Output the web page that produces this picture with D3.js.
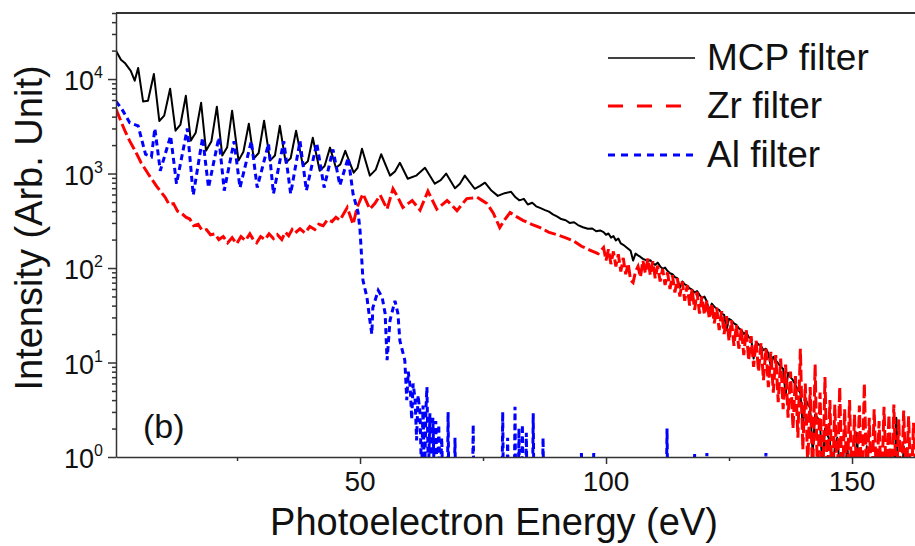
<!DOCTYPE html>
<html>
<head>
<meta charset="utf-8">
<script src="https://cdn.jsdelivr.net/npm/d3@7"></script>
<style>
  body { margin: 0; background: #fff; }
  svg { display: block; font-family: "Liberation Sans", Arial, sans-serif; }
</style>
</head>
<body>
<svg id="chart" width="915" height="546"></svg>
<script>
// MCP filter spectrum, 0 - 98 eV (peaks / troughs of the harmonic comb)
var mcpE = [0.4, 1.4, 2.2, 3.4, 4.2, 4.9, 5.9, 6.9, 8.1, 9.2, 10.2, 11.4, 12.5, 13.5, 14.6, 15.6, 16.6, 17.7, 18.7, 19.8,
  20.9, 22.0, 23.0, 24.0, 25.3, 26.3, 27.4, 28.4, 29.4, 30.5, 31.7, 32.7, 33.7, 34.9, 35.9, 37.0, 38.4, 39.4, 40.4, 41.8,
  42.8, 43.9, 45.1, 46.0, 47.0, 48.7, 49.5, 50.4, 52.0, 53.2, 54.3, 56.1, 57.1, 58.1, 59.7, 61.4, 63.2, 65.2, 66.4, 67.5,
  69.3, 70.3, 71.3, 73.3, 74.4, 75.4, 76.7, 78.0, 79.4, 80.7, 81.6, 82.4, 83.3, 84.1, 85.0, 85.8, 86.7, 87.6, 88.4, 89.2,
  90.1, 90.9, 91.8, 92.6, 93.5, 94.3, 95.3, 96.3, 97.2, 98.0, 98.8];
var mcpI = [20000, 16000, 14800, 12200, 9600, 13100, 5800, 5900, 11300, 3600, 4100, 7900, 2840, 3300, 6650, 2230, 2700, 5600, 1740, 2200,
  5100, 1550, 1900, 4620, 1370, 1700, 3370, 1440, 1650, 3620, 1370, 1550, 3200, 1300, 1450, 2840, 1210, 1350, 2390, 1070,
  1200, 1880, 1150, 1250, 1740, 1020, 1150, 1830, 950, 1100, 1600, 950, 1050, 1300, 880, 950, 1150, 780, 850, 1000,
  700, 780, 950, 690, 740, 800, 660, 580, 620, 640, 560, 520, 540, 470, 490, 450, 430, 410, 395, 370,
  350, 330, 320, 300, 305, 285, 270, 260, 262, 245, 250];

// noisy high-energy part, sampled every 0.5 eV from 99.5 eV
var tailStart = 99.5, tailStep = 0.5;
var mcpTail = [240, 225, 232, 210, 218, 196, 205, 182, 176, 168, 160, 152, 120, 142, 136, 131, 125, 122, 118, 121,
  112, 108, 114, 104, 98, 101, 93, 88, 86, 80, 78, 62, 72, 67, 65, 61, 59, 55, 57, 52,
  48, 50, 44, 35, 42, 39, 37, 36, 33, 32, 22, 29, 28, 26, 25, 23, 22, 20, 21, 18.5,
  18, 11, 16.5, 15.5, 15, 13.5, 14, 12.5, 9, 11.5, 10.5, 9.8, 9, 8.6, 4.5, 7.8, 7, 6.5, 5.8, 5.1,
  4.8, 2.0, 4.2, 3.6, 3.3, 1.1, 2.8, 2.6, 2.3, 0.7, 2.0, 1.7, 1.5, 0.6, 1.3, 1.6, 0.8, 1.1, 0.5, 1.4,
  0.6, 0.9, 0.4, 1.8, 0.5, 0.7, 0.4, 1.3, 0.5, 0.6, 0.4, 1.2, 0.5, 0.4, 0.8, 0.4, 1.1, 0.5, 0.4, 2.6,
  0.5, 0.4, 1.3, 0.5, 0.4, 0.9, 0.5, 0.4];

// Zr filter spectrum
var zrE = [0.4, 1.2, 2.2, 3.2, 4.3, 5.5, 6.9, 8.6, 10.4, 11.2, 12.1, 12.9, 13.8, 14.6, 15.4, 16.2, 17.1, 17.9, 18.8, 19.6,
  20.5, 21.3, 22.2, 23.1, 24.0, 24.9, 25.8, 26.7, 27.6, 28.3, 29.0, 29.8, 30.7, 31.5, 32.4, 33.2, 34.1, 34.8, 35.5, 36.2,
  36.8, 37.8, 38.8, 39.8, 40.8, 41.6, 42.5, 43.4, 44.3, 45.1, 45.9, 47.4, 48.6, 49.4, 50.6, 52.0, 53.0, 54.1, 55.5, 56.7,
  57.7, 58.7, 60.6, 62.2, 63.8, 65.6, 67.7, 68.7, 69.7, 70.7, 71.7, 72.8, 73.8, 74.8, 75.8, 77.1, 78.4, 79.5, 80.5, 81.8,
  83.1, 84.9, 86.6, 88.3, 90.0, 91.7, 93.3, 95.0, 96.7, 98.4];
var zrI = [4800, 3800, 2840, 2200, 1740, 1300, 1000, 740, 560, 470, 480, 400, 377, 345, 330, 280, 290, 250, 255, 225,
  230, 200, 215, 185, 210, 180, 215, 195, 230, 200, 185, 215, 200, 230, 205, 225, 200, 240, 220, 255,
  235, 260, 235, 275, 255, 290, 280, 325, 310, 345, 320, 437, 290, 437, 610, 420, 481, 590, 420, 690,
  560, 437, 518, 410, 650, 420, 518, 460, 405, 470, 543, 550, 560, 520, 481, 380, 268, 330, 386, 350,
  320, 290, 268, 240, 225, 210, 195, 170, 155, 142];
var zrTail = [165, 120, 158, 110, 150, 104, 140, 92, 128, 86, 112, 74, 70, 92, 104, 80, 120, 88, 126, 84,
  118, 78, 106, 72, 98, 66, 90, 60, 84, 55, 78, 50, 72, 45, 66, 40, 60, 36, 56, 33,
  50, 32, 45, 29, 42, 26, 38, 22, 35, 20, 31, 17, 28, 15, 25, 14, 23, 12, 22, 10.5,
  19, 9, 17, 8, 16, 6.5, 14, 5.5, 13, 4.8, 12, 3.8, 11, 3.2, 9.5, 2.6, 8, 2.0, 7.2, 1.6,
  14, 1.2, 6, 0.8, 5.5, 0.6, 9.5, 0.5, 4.8, 0.4, 7, 0.5, 4, 0.4, 3.6, 0.5, 5.5, 0.4, 3.2, 0.5,
  4, 0.4, 2.8, 0.5, 3.5, 0.4, 6, 0.5, 2.6, 0.4, 3.2, 0.5, 2.4, 0.4, 3.4, 0.5, 2.8, 0.4, 3.6, 0.5,
  2.5, 0.4, 3.1, 0.5, 2.7, 0.4, 2.3, 0.5];

// Al filter spectrum (transmission edge near 50 eV)
var alE = [0.4, 1.6, 3.2, 4.9, 6.4, 7.6, 8.3, 9.4, 11.5, 12.7, 14.9, 16.1, 18.0, 19.2, 21.3, 22.4, 24.4, 25.6, 27.9, 29.1,
  31.4, 32.4, 34.5, 35.9, 37.8, 39.1, 41.2, 42.7, 44.5, 45.9, 47.6, 48.6, 49.6, 50.0, 50.4, 50.6, 51.4, 52.0, 52.4, 52.6,
  53.7, 54.5, 55.1, 55.5, 56.1, 57.1, 57.7, 58.1, 59.1, 59.5, 59.8, 60.2, 60.5, 60.8, 61.2, 61.5, 61.8, 62.2, 62.5, 62.8,
  63.1, 63.4, 63.6, 63.9, 64.2, 64.5, 64.8, 65.1, 65.4, 65.7, 66.0, 66.3, 66.6, 66.9];
var alI = [5800, 4800, 3450, 3200, 1600, 1500, 3000, 1070, 2500, 780, 3000, 590, 2400, 710, 2400, 660, 2200, 710, 2200, 710,
  2070, 610, 2200, 610, 2200, 660, 2100, 710, 1800, 750, 1470, 600, 390, 250, 112, 74, 49, 28, 20, 38,
  58, 49, 33, 10.6, 28, 45, 33, 17, 10.6, 4, 8, 5.5, 2.5, 6, 4, 1.5, 4.5, 2.9, 0.6, 3.5,
  0.5, 3.2, 5.5, 0.6, 2.9, 0.5, 2.6, 0.6, 2.4, 0.5, 2.2, 0.5, 1.6, 0.4];
// isolated counts above the Al edge
var alSpikeE = [67.9, 69.3, 73.0, 79.0, 80.0, 81.5, 82.3, 83.0, 83.8, 85.2, 87.2, 95.0, 97.5, 112.4, 118.0, 120.5, 132.5];
var alSpikeH = [3.0, 1.6, 2.2, 3.0, 1.6, 3.4, 2.0, 2.2, 1.8, 2.9, 1.6, 1.1, 1.1, 2.0, 1.1, 1.1, 1.1];
var alFloor = 0.4;

// axes
var xMajor = [50, 100, 150];
var xMinor = [25, 75, 125];
var yMajor = [1, 10, 100, 1000, 10000];
var yExp = ["0", "1", "2", "3", "4"];
var yMinorMult = [2, 3, 4, 5, 6, 7, 8, 9];

var legendNames = ["MCP filter", "Zr filter", "Al filter"];
var colors = ["#000000", "#ff0000", "#0000ff"];

var svg = d3.select("#chart");
var plotL = 116, plotR = 915, plotT = 13, plotB = 457;

var x = d3.scaleLinear().domain([0.4, 162.8]).range([plotL, plotR]);
var y = d3.scaleLog().domain([1, 50000]).range([plotB, plotT]);

function tailPoints(vals) {
  return vals.map(function(v, i) { return {e: tailStart + i * tailStep, v: v}; });
}
var mcp = mcpE.map(function(e, i) { return {e: e, v: mcpI[i]}; }).concat(tailPoints(mcpTail));
var zr = zrE.map(function(e, i) { return {e: e, v: zrI[i]}; }).concat(tailPoints(zrTail));
var al = alE.map(function(e, i) { return {e: e, v: alI[i]}; });
alSpikeE.forEach(function(e, i) {
  al.push({e: e - 0.15, v: alFloor}, {e: e, v: alSpikeH[i]}, {e: e + 0.15, v: alFloor});
});
al.push({e: 162.8, v: alFloor});

svg.append("clipPath").attr("id", "plotclip")
  .append("rect").attr("x", plotL).attr("y", plotT).attr("width", plotR - plotL).attr("height", plotB - plotT);

var line = d3.line().x(function(d) { return x(d.e); }).y(function(d) { return y(d.v); });

var plot = svg.append("g").attr("clip-path", "url(#plotclip)");
plot.append("path").datum(mcp).attr("d", line)
  .attr("fill", "none").attr("stroke", colors[0]).attr("stroke-width", 2).attr("stroke-linejoin", "round");
plot.append("path").datum(zr).attr("d", line)
  .attr("fill", "none").attr("stroke", colors[1]).attr("stroke-width", 3).attr("stroke-dasharray", "12,4");
plot.append("path").datum(al).attr("d", line)
  .attr("fill", "none").attr("stroke", colors[2]).attr("stroke-width", 3).attr("stroke-dasharray", "6,4");

// frame top
svg.append("line").attr("x1", plotL).attr("x2", plotR).attr("y1", plotT).attr("y2", plotT)
  .attr("stroke", "#333").attr("stroke-width", 2);

// bottom axis
svg.append("g").attr("transform", "translate(0," + plotB + ")")
  .call(d3.axisBottom(x).tickValues(xMajor).tickSize(7).tickSizeOuter(0).tickFormat(""))
  .selectAll(".tick text").remove();
svg.append("g").attr("transform", "translate(0," + plotB + ")")
  .call(d3.axisBottom(x).tickValues(xMinor).tickSize(4).tickSizeOuter(0).tickFormat(""))
  .call(function(g) { g.select(".domain").remove(); g.selectAll(".tick text").remove(); });

svg.selectAll(".xlab").data(xMajor).enter().append("text")
  .attr("class", "xlab")
  .attr("x", function(d) { return x(d); }).attr("y", 491)
  .attr("text-anchor", "middle").attr("font-size", 28).attr("fill", "#111")
  .text(function(d) { return d; });

// left axis
var yMinor = [];
yMajor.forEach(function(m) {
  yMinorMult.forEach(function(k) { if (m * k <= 50000) yMinor.push(m * k); });
});
svg.append("g").attr("transform", "translate(" + plotL + ",0)")
  .call(d3.axisLeft(y).tickValues(yMajor).tickSize(8).tickSizeOuter(0).tickFormat(""))
  .selectAll(".tick text").remove();
svg.append("g").attr("transform", "translate(" + plotL + ",0)")
  .call(d3.axisLeft(y).tickValues(yMinor).tickSize(4).tickSizeOuter(0).tickFormat(""))
  .call(function(g) { g.select(".domain").remove(); g.selectAll(".tick text").remove(); });
svg.selectAll(".tick line, .domain").attr("stroke", "#333").attr("stroke-width", 1.5);

var ylab = svg.selectAll(".ylab").data(yMajor).enter().append("text")
  .attr("class", "ylab")
  .attr("x", 103).attr("y", function(d) { return y(d) + 11; })
  .attr("text-anchor", "end").attr("font-size", 27).attr("fill", "#111");
ylab.append("tspan").text("10");
ylab.append("tspan").attr("font-size", 16).attr("dy", -12).text(function(d, i) { return yExp[i]; });

// axis titles
svg.append("text").attr("x", 494).attr("y", 535).attr("text-anchor", "middle")
  .attr("font-size", 38).attr("fill", "#111").text("Photoelectron Energy (eV)");
svg.append("text").attr("transform", "translate(42,228) rotate(-90)").attr("text-anchor", "middle")
  .attr("font-size", 38).attr("fill", "#111").text("Intensity (Arb. Unit)");

// panel label
svg.append("text").attr("x", 143).attr("y", 438).attr("font-size", 34).attr("fill", "#111").text("(b)");

// legend
var legendY = [58, 106, 155];
var dashes = [null, "15,14", "7,6"];
var widths = [1.5, 3, 3];
legendNames.forEach(function(name, i) {
  svg.append("line").attr("x1", 608).attr("x2", 695).attr("y1", legendY[i]).attr("y2", legendY[i])
    .attr("stroke", colors[i]).attr("stroke-width", widths[i]).attr("stroke-dasharray", dashes[i]);
  svg.append("text").attr("x", 707).attr("y", legendY[i] + 12).attr("font-size", 37).attr("fill", "#111").text(name);
});
</script>
</body>
</html>
